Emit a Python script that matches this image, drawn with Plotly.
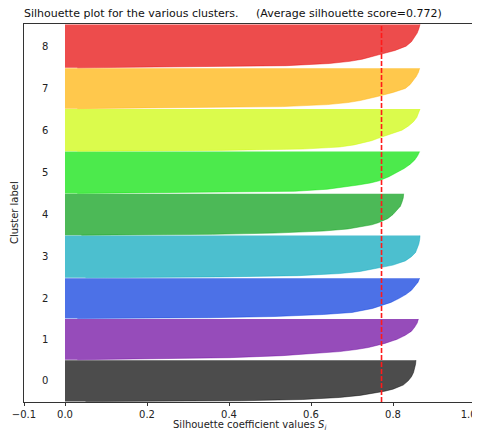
import plotly.graph_objects as go

# silhouette data
cluster_labels = [0, 1, 2, 3, 4, 5, 6, 7, 8]
cluster_sizes = [1042, 1025, 1015, 1060, 1040, 1050, 1060, 1015, 1092]
avg_score = 0.772

# sorted silhouette values, sampled at these fractions of each cluster (low to high)
rank_fractions = [0.0, 0.02, 0.05, 0.1, 0.15, 0.2, 0.25, 0.3, 0.4, 0.5, 0.6, 0.7, 0.8, 0.9, 1.0]
sil_0 = [0.05, 0.43, 0.58, 0.67, 0.72, 0.755, 0.78, 0.80, 0.825, 0.837, 0.845, 0.85, 0.853, 0.855, 0.856]
sil_1 = [0.03, 0.25, 0.40, 0.53, 0.61, 0.67, 0.71, 0.74, 0.78, 0.81, 0.83, 0.845, 0.853, 0.859, 0.862]
sil_2 = [0.03, 0.35, 0.51, 0.63, 0.70, 0.73, 0.75, 0.765, 0.795, 0.815, 0.832, 0.845, 0.854, 0.861, 0.865]
sil_3 = [0.05, 0.38, 0.57, 0.67, 0.72, 0.75, 0.775, 0.80, 0.83, 0.845, 0.855, 0.86, 0.863, 0.865, 0.866]
sil_4 = [0.04, 0.36, 0.51, 0.63, 0.69, 0.725, 0.748, 0.764, 0.787, 0.80, 0.81, 0.818, 0.822, 0.825, 0.826]
sil_5 = [0.03, 0.33, 0.56, 0.64, 0.685, 0.715, 0.745, 0.766, 0.79, 0.81, 0.828, 0.842, 0.853, 0.86, 0.865]
sil_6 = [0.03, 0.38, 0.58, 0.67, 0.705, 0.73, 0.748, 0.762, 0.795, 0.822, 0.838, 0.85, 0.858, 0.863, 0.866]
sil_7 = [0.03, 0.34, 0.53, 0.64, 0.69, 0.72, 0.745, 0.762, 0.80, 0.83, 0.842, 0.85, 0.857, 0.862, 0.865]
sil_8 = [0.03, 0.34, 0.54, 0.645, 0.695, 0.725, 0.748, 0.765, 0.805, 0.832, 0.845, 0.853, 0.859, 0.863, 0.866]
silhouette_values = [sil_0, sil_1, sil_2, sil_3, sil_4, sil_5, sil_6, sil_7, sil_8]

# nipy_spectral colours for i/9
cluster_colors = [(0, 0, 0), (106, 0, 157), (0, 53, 221), (0, 164, 187), (0, 155, 15),
                  (0, 225, 0), (204, 249, 0), (255, 176, 0), (229, 0, 0)]

x_tickvals = [-0.1, 0.0, 0.2, 0.4, 0.6, 0.8, 1.0]
# trailing spaces nudge the last label left so it stays inside the window
x_ticktext = ["\u22120.1", "0.0", "0.2", "0.4", "0.6", "0.8", "1.0\u00a0\u00a0\u00a0\u00a0"]

font = "DejaVu Sans"
fig = go.Figure()
annotations = []

y_lower = 10
for i, label in enumerate(cluster_labels):
    size = cluster_sizes[i]
    ys = [y_lower + f * size for f in rank_fractions]
    r, g, b = cluster_colors[i]
    rgba = "rgba(%d,%d,%d,0.7)" % (r, g, b)
    fig.add_trace(go.Scatter(x=silhouette_values[i], y=ys, mode="lines", fill="tozerox",
                             fillcolor=rgba, line=dict(color=rgba, width=0.6),
                             showlegend=False, hoverinfo="skip"))
    annotations.append(dict(x=-0.05, y=y_lower + 0.5 * size, text=str(label), showarrow=False,
                            xref="x", yref="y", font=dict(size=10, color="#222")))
    y_lower = y_lower + size + 10

y_top = sum(cluster_sizes) + (len(cluster_labels) + 1) * 10

# axis titles as annotations so they sit where matplotlib put them
annotations.append(dict(x=-0.022, y=0.5, xref="paper", yref="paper", xanchor="center", yanchor="middle",
                        text="Cluster label", textangle=-90, showarrow=False,
                        font=dict(size=10, color="#222")))
annotations.append(dict(x=0.5, y=-0.061, xref="paper", yref="paper", yanchor="middle",
                        text="Silhouette coefficient values <i>S</i><sub><i>i</i></sub>",
                        showarrow=False, font=dict(size=10, color="#222")))

fig.add_shape(type="line", x0=avg_score, x1=avg_score, y0=0, y1=1, xref="x", yref="paper",
              line=dict(color="#ff1a1a", width=1.6, dash="5px,2px"))

# page has an 8px body margin, so the plot area is shifted to compensate
fig.update_layout(
    width=480, height=424,
    margin=dict(l=16, r=13, t=16, b=30),
    paper_bgcolor="white", plot_bgcolor="white",
    font=dict(family=font, size=10, color="#222"),
    title=dict(text="Silhouette plot for the various clusters.\u00a0\u00a0\u00a0\u00a0\u00a0(Average silhouette score=0.772)",
               xref="paper", x=0, xanchor="left", yref="container", y=0.988, yanchor="middle",
               font=dict(family=font, size=11, color="#111")),
    annotations=annotations,
)
fig.update_xaxes(range=[-0.1, 1.0], tickvals=x_tickvals, ticktext=x_ticktext, automargin=False,
                 ticklabeloverflow="allow",
                 showgrid=False, zeroline=False, showline=True, linecolor="#333", linewidth=1,
                 mirror=True, ticks="outside", ticklen=3, tickcolor="#333",
                 tickfont=dict(size=10, color="#222"))
fig.update_yaxes(range=[0, y_top], showticklabels=False, showgrid=False, zeroline=False, automargin=False,
                 showline=True, linecolor="#333", linewidth=1, mirror=True, ticks="")

fig.write_html("out.html")
